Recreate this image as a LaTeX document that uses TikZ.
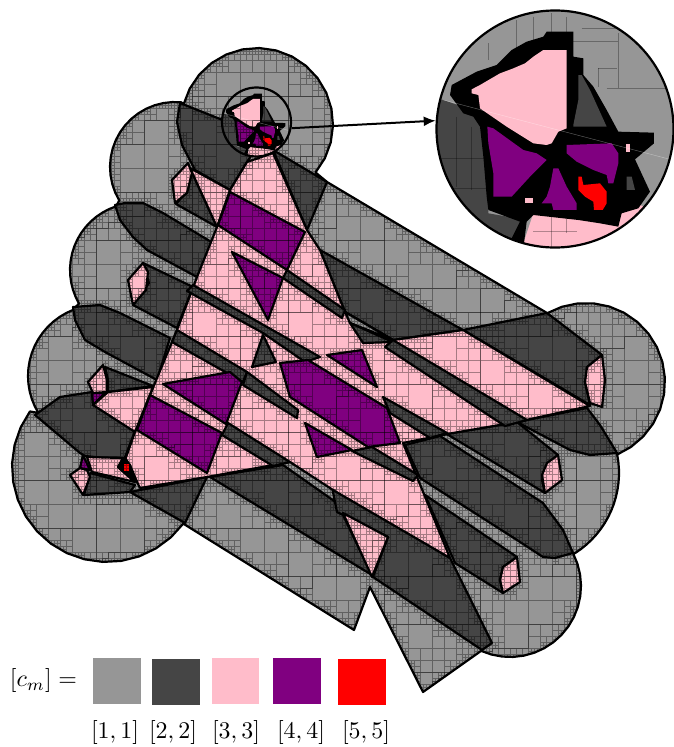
\documentclass[tikz,border=0pt]{standalone}
\usetikzlibrary{arrows.meta}
\definecolor{gr}{HTML}{969696}
\definecolor{dk}{HTML}{454545}
\definecolor{pk}{HTML}{FFBCCA}
\definecolor{pu}{HTML}{800080}
\definecolor{rd}{HTML}{FF0000}
\tikzset{reg/.style={draw=black,line width=2.2bp,line join=round},
 sq/.style={minimum width=47.5bp,minimum height=46bp,inner sep=0pt,draw=none},
 lab/.style={scale=2.4,inner sep=0pt},
 lensring/.style={circle,draw=black,line width=2.2bp,inner sep=0pt},
 thinl/.style={draw=black,draw opacity=.3,line width=.5bp}}
\makeatletter
\gdef\Lst{}
\newcount\cellcnt
\gdef\CellBuf{}
\def\AddSegU#1#2#3#4{\begingroup
 \edef\sa{\the\numexpr#2-#4\relax}\edef\sb{\the\numexpr#3-#1\relax}%
 \edef\sc{\the\numexpr0-(\sa*#1+\sb*#2)\relax}%
 \edef\sn{\the\numexpr\ifnum\sa<0 -\fi\sa+\ifnum\sb<0 -\fi\sb\relax}%
 \edef\sxa{\ifnum#1<#3 #1\else#3\fi}\edef\sxb{\ifnum#1<#3 #3\else#1\fi}%
 \edef\sya{\ifnum#2<#4 #2\else#4\fi}\edef\syb{\ifnum#2<#4 #4\else#2\fi}%
 \xdef\Lst{\unexpanded\expandafter{\Lst}\noexpand\Sg{\sxa}{\sxb}{\sya}{\syb}{\sa}{\sb}{\sc}{\sn}}\endgroup}
\endlinechar=-1
\def\Sg#1#2#3#4#5#6#7#8{\ifnum#2<\CXa\space\else\ifnum#1>\CXb\space\else\ifnum#4<\CYa\space\else\ifnum#3>\CYb\space\else
\ifnum\numexpr#5*\CXc+#6*\CYc+#7\relax>\numexpr#8*\Hh\relax\else
\ifnum\numexpr#5*\CXc+#6*\CYc+#7\relax<-\numexpr#8*\Hh\relax\else
\noexpand\Sg{#1}{#2}{#3}{#4}{#5}{#6}{#7}{#8}\fi\fi\fi\fi\fi\fi}
\endlinechar=13
\def\FlushCells{\pgfsys@invoke{q .125 0 0 -.125 0 0 cm 0 0 0 RG 5 w \CellBuf S Q}\gdef\CellBuf{}\global\cellcnt=0 }
\def\Emit#1#2#3{\xdef\CellBuf{\CellBuf #1 #2 #3 #3 re }\global\advance\cellcnt 1 \ifnum\cellcnt>150 \FlushCells\fi}
\def\CSplit{\edef\Do{\noexpand\Cell{\CXa}{\CYa}{\Hh}\noexpand\Cell{\CXc}{\CYa}{\Hh}\noexpand\Cell{\CXa}{\CYc}{\Hh}\noexpand\Cell{\CXc}{\CYc}{\Hh}}\Do}
\def\Cell#1#2#3{\ifnum#2<5600 \begingroup
 \edef\CXa{#1}\edef\CYa{#2}\edef\CXb{\the\numexpr#1+#3\relax}\edef\CYb{\the\numexpr#2+#3\relax}%
 \edef\Hh{\the\numexpr#3/2\relax}\edef\CXc{\the\numexpr#1+\Hh\relax}\edef\CYc{\the\numexpr#2+\Hh\relax}%
 \edef\Lst{\Lst}%
 \ifnum#3>384 \CSplit\else\ifx\Lst\empty\Emit{#1}{#2}{#3}\else\ifnum#3>24 \CSplit\else\Emit{#1}{#2}{#3}\fi\fi\fi
 \endgroup\fi}
\newcommand\Pg[2]{\let\Pg@path\empty\let\Pg@first\empty\Pg@next#2 x,x \expandafter\Pg@close\Pg@first\edef\Pg@do{\noexpand\draw[reg,fill=#1] \Pg@path -- cycle;}\Pg@do}
\def\Pg@next#1,#2 {\ifx x#1\else\ifx\Pg@path\empty\edef\Pg@path{(#1,#2)}\edef\Pg@first{#1,#2;}\else\edef\Pg@path{\Pg@path -- (#1,#2)}\AddSegI{\Pg@px}{\Pg@py}{#1}{#2}\fi\edef\Pg@px{#1}\edef\Pg@py{#2}\expandafter\Pg@next\fi}
\def\AddSegI#1#2#3#4{\edef\sega{\the\numexpr#1*8\relax}\edef\segb{\the\numexpr#2*8\relax}\edef\segc{\the\numexpr#3*8\relax}\edef\segd{\the\numexpr#4*8\relax}\AddSegU{\sega}{\segb}{\segc}{\segd}}
\def\Pg@close#1,#2;{\AddSegI{\Pg@px}{\Pg@py}{#1}{#2}}
\newcommand\Fl[2]{\let\Pg@path\empty\Fl@next#2 x,x \edef\Pg@do{\noexpand\fill[#1] \Pg@path -- cycle;}\Pg@do}
\def\Fl@next#1,#2 {\ifx x#1\else\ifx\Pg@path\empty\edef\Pg@path{(#1,#2)}\else\edef\Pg@path{\Pg@path -- (#1,#2)}\fi\expandafter\Fl@next\fi}
\newcommand\AddArc[5]{\@tempcnta=0
 \loop\ifnum\@tempcnta<17\relax
  \pgfmathsetmacro\aa{#4+(#5-(#4))*\the\@tempcnta/16}
  \pgfmathsetmacro\xx{#1+#3*cos(\aa)}\pgfmathsetmacro\yy{#2+#3*sin(\aa)}
  \pgfmathtruncatemacro\xu{8*\xx}\pgfmathtruncatemacro\yu{8*\yy}
  \AddSegU{\Spx}{\Spy}{\xu}{\yu}\xdef\Spx{\xu}\xdef\Spy{\yu}
  \xdef\Sil{\Sil -- (\xx,\yy)}
  \advance\@tempcnta 1
 \repeat}
\newcommand\SilTo[2]{\edef\xu{\the\numexpr#1*8\relax}\edef\yu{\the\numexpr#2*8\relax}\AddSegU{\Spx}{\Spy}{\xu}{\yu}\xdef\Spx{\xu}\xdef\Spy{\yu}\xdef\Sil{\Sil -- (#1,#2)}}
\makeatother
\newcommand\StarScene[5]{%
\begin{scope}[shift={(#1,#2)},x=#3bp,y=-#3bp,xshift=-375*#3bp,yshift=387*#3bp]
\clip (375,387) circle[radius=#4];
\fill[gr] (0,0) rectangle (760,760);
\Fl{dk}{0,290 40,300 170,345 175,640 290,660 250,760 0,760}
\Fl{pk}{310,640 440,640 510,670 565,640 565,595 585,595 590,610 630,615 660,630 560,760 270,760}
#5
\Fl{black}{350,95 430,95 430,170 460,175 460,225 490,260 530,330 565,395 672,398 672,430 615,478 660,575 625,625 575,640 565,680 510,670 445,660 310,645 290,665 280,745 245,715 270,665 175,630 170,590 160,470 150,380 130,350 100,340 60,285 65,255 140,215 200,195 245,150 290,125 340,110}
\Fl{pk}{340,150 410,150 410,385 385,395 365,430 350,435 310,430 230,380 150,325 145,285 125,280 125,268 150,255 210,220 250,205 285,190 310,170}
\Fl{dk}{445,225 455,225 480,270 530,380 430,380 430,375 445,300}
\Fl{pu}{172,380 190,385 280,450 320,460 350,480 300,530 245,590 190,590 190,520 175,430}
\Fl{pu}{410,435 545,430 565,460 565,490 550,550 535,550 530,525 490,510 440,485 410,460}
\Fl{pu}{370,505 385,505 410,560 440,610 440,630 370,630 365,610 335,610 350,590 360,560}
\Fl{rd}{445,530 455,530 460,555 510,550 530,575 530,610 518,630 492,630 490,605 465,590 445,570}
\Fl{pk}{285,595 310,595 310,610 285,610}
\Fl{pk}{588,433 600,433 600,457 588,457}
\Fl{dk}{590,530 605,530 615,570 590,570}
\draw[white,opacity=.4,line width=.4bp] (40,300) -- (720,478);
\end{scope}}
\newcommand\StarGrid{%
\foreach \a/\b/\c/\d in {310/50/310/120,365/40/365/95,410/50/410/95,455/85/570/85,565/100/565/265,505/205/560/205,505/205/505/260,530/265/730/265,260/60/260/150,175/130/175/180,430/125/565/125,80/350/80/560,125/380/125/570,20/475/170/475,25/565/170/565,260/210/260/380,365/150/365/400,310/170/310/430,210/260/410/260,365/650/365/740,410/650/410/700,310/695/440/695,190/520/300/520,210/400/210/590}{\draw[thinl] (\a,\b) -- (\c,\d);}}
\begin{document}
\begin{tikzpicture}[x=1bp,y=-1bp]
\useasboundingbox (0,0) rectangle (674,747);
\gdef\Sil{(327,182)}
\xdef\Spx{2616}\xdef\Spy{1456}
\SilTo{547}{313}
\AddArc{586}{382}{79}{-119.5}{67}
\AddArc{524}{473}{95}{-11}{57.5}
\AddArc{510}{586}{71}{-27}{114}
\SilTo{423}{692}\SilTo{370}{587}\SilTo{354}{630}
\AddArc{107}{467}{95}{36.6}{215.8}
\AddArc{99}{376}{71}{148.6}{248.6}
\AddArc{137}{270}{67}{150}{251.8}
\AddArc{175}{167}{65}{149}{275.5}
\AddArc{257}{124}{76}{195}{399.6}
\edef\tmp{\noexpand\draw[reg,fill=gr] \Sil -- cycle;}\tmp
% dark regions
\Pg{dk}{180,103 230,123 262,140 247,162 230,190 195,170 182,145 177,122}
\Pg{dk}{273,150 327,182 307,230}
\Pg{dk}{190,168 217,227 176,204 188,190}
\Pg{dk}{115,205 125,203 143,203 163,213 213,243 197,277 147,250 133,237 120,220}
\Pg{dk}{143,263 193,287 177,328 133,305 149,283}
\Pg{dk}{73,307 100,305 120,313 170,338 157,380 105,352 85,340 75,320}
\Pg{dk}{105,367 153,386 108,392 108,380}
\Pg{dk}{35,415 60,397 92,392 93,403 135,431 124,460 85,456 80,453}
\Pg{dk}{90,473 135,485 130,492 84,495}
\Pg{dk}{130,492 207,477 185,523}
\Pg{dk}{210,477 283,465 337,503 343,515 372,575}
\Pg{dk}{332,487 450,558 492,643 482,650 373,577 388,537 337,512}
\Pg{dk}{405,445 440,436 543,503 563,530 573,553 555,558 543,557 517,540 420,478}
\Pg{dk}{452,433 517,422 558,455 545,470 542,480 545,493 445,433}
\Pg{dk}{463,330 547,313 602,355 590,365 585,382 590,405}
\Pg{dk}{320,250 463,330 393,340 345,312}
\Pg{dk}{517,422 587,408 600,425 617,453 590,455 570,450}
\Pg{dk}{425,495 517,557 503,567 500,580 503,593 455,563}
% pink
\Pg{pk}{247,162 273,153 307,230 320,250 345,312 393,340 463,330 590,406 517,422 453,433 403,443 417,477 450,558 333,490 290,462 207,477 140,488 137,482 125,460 135,432 157,378 177,330 197,277 217,227 230,190}
\Pg{pk}{190,168 230,190 217,227}
\Pg{pk}{93,405 108,392 153,387 135,432}
\Pg{pk}{343,513 388,537 372,577}
\Pg{pk}{87,457 123,458 118,467 135,482 92,472}
\Pg{gr}{345,312 393,340 350,323}
% strips
\Pg{dk}{350,323 393,342 363,343}
\Pg{dk}{193,285 320,357 305,362 263,333 187,291}
\Pg{dk}{177,330 247,372 243,382 172,342}
\Pg{dk}{247,372 298,410 297,418 243,385}
\Pg{dk}{352,451 372,447 418,475 413,481}
\Pg{dk}{228,423 290,462 273,466 222,435}
\Pg{dk}{287,270 345,310 342,318 283,278}
\Pg{dk}{393,340 527,420 505,426 385,347}
\Pg{dk}{383,397 447,433 430,438 390,413}
\Pg{dk}{263,335 276,362 252,367}
% purple
\Pg{pu}{230,192 305,232 287,270 218,225}
\Pg{pu}{232,252 283,278 268,320}
\Pg{pu}{280,363 308,360 387,408 400,443 368,447 290,397}
\Pg{pu}{327,355 362,350 377,387}
\Pg{pu}{305,423 352,450 317,457}
\Pg{pu}{163,384 230,372 242,382 226,424}
\Pg{pu}{150,395 222,433 207,473 137,430}
\Pg{pu}{92,393 105,393 93,405}
% pentagons
\Pg{pk}{188,163 172,180 175,203 187,193 192,173}
\Pg{pk}{143,263 128,280 133,305 146,290 148,272}
\Pg{pk}{103,365 88,382 93,393 107,392 107,380}
\Pg{pk}{80,468 70,475 83,495 90,477 87,470}
\Pg{pu}{83,455 80,468 90,470}
\Pg{pk}{602,355 587,367 585,382 590,403 602,407 605,380}
\Pg{pk}{558,455 547,463 542,475 545,493 562,480}
\Pg{pk}{517,557 503,567 500,580 503,593 520,582}
\Pg{black}{125,458 118,467 127,475 137,482 130,465}
\fill[rd] (124,464) rectangle (129,471);
% zoom lens
\StarScene{256.5}{122}{0.0972}{34.5bp}{}
% subdivision of the plane
\begin{scope}
\edef\tmp{\noexpand\clip \Sil -- cycle;}\tmp
\pgfsetstrokeopacity{.35}
\Cell{0}{0}{6144}
\FlushCells
\end{scope}
\StarScene{555}{129}{0.3333}{118.5bp}{\StarGrid}
\node[lensring,minimum size=69bp] (lens) at (256.5,122) {};
\node[lensring,minimum size=237bp] (big) at (555,129) {};
\draw[line width=2bp,-{Latex[length=12bp,width=10bp]}] (lens.-10) -- (big.176);
% legend
\node[lab] (cm) at (43.5,681) {$[c_m]=$};
\node[sq,fill=gr] (s1) at (117,681) {};
\node[sq,fill=dk] (s2) at (176,682) {};
\node[sq,fill=pk] (s3) at (235.5,681) {};
\node[sq,fill=pu] (s4) at (297,681) {};
\node[sq,fill=rd] (s5) at (362,681.5) {};
\node[lab] (l1) at (115,733) {$[1,1]$};
\node[lab] (l2) at (173,733) {$[2,2]$};
\node[lab] (l3) at (236,733) {$[3,3]$};
\node[lab] (l4) at (301,733) {$[4,4]$};
\node[lab] (l5) at (366,733) {$[5,5]$};
\end{tikzpicture}
\end{document}
